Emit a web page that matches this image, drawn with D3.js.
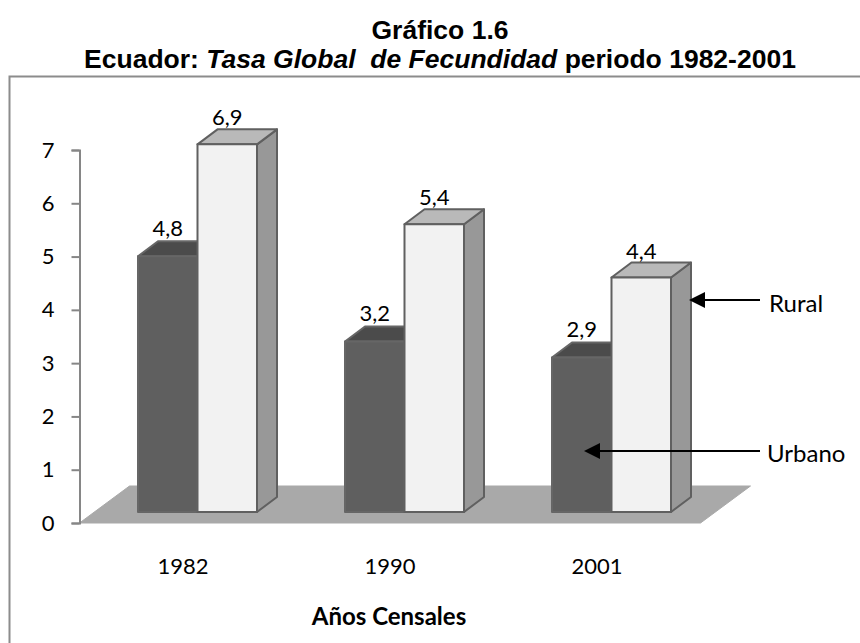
<!DOCTYPE html>
<html><head><meta charset="utf-8">
<script src="https://cdn.jsdelivr.net/npm/d3@7"></script>
<style>html,body{margin:0;padding:0;background:#fff}svg{display:block}</style>
</head><body><svg id="c" width="860" height="643"></svg>
<script>
const categories = ["1982","1990","2001"];
const urbano = [4.8,3.2,2.9];
const rural = [6.9,5.4,4.4];
const urbanoLabels = ["4,8","3,2","2,9"];
const ruralLabels = ["6,9","5,4","4,4"];
const yTicks = [0,1,2,3,4,5,6,7];

const svg = d3.select("#c");
const sans = "Lato, 'Open Sans', sans-serif";
const axisColor = "#868686";

svg.append("rect").attr("x",9.5).attr("y",76.5).attr("width",870).attr("height",590)
  .attr("fill","#fff").attr("stroke","#8c8c8c").attr("stroke-width",2);

const t = svg.append("g").attr("font-family","'Liberation Sans', Arial, sans-serif").attr("font-weight","bold")
  .attr("font-size",26.5).attr("fill","#000").attr("text-anchor","middle");
t.append("text").attr("x",440).attr("y",38.5).text("Gráfico 1.6");
const t2 = t.append("text").attr("x",440).attr("y",68).attr("xml:space","preserve").style("white-space","pre");
t2.append("tspan").text("Ecuador: ");
t2.append("tspan").attr("font-style","italic").text("Tasa Global  de Fecundidad");
t2.append("tspan").text(" periodo 1982-2001");

const x = d3.scaleBand().domain(categories).range([79.5,700.5]);
const y = d3.scaleLinear().domain([0,7]).range([523,150]);

const depthX = 20, depthY = -15, lift = 11, barW = 59.5;
const floorPts = [[x.range()[0],y(0)],[x.range()[0]+50,y(0)-37],[x.range()[1]+50,y(0)-37],[x.range()[1],y(0)]];
svg.append("polygon").attr("points",floorPts.join(" ")).attr("fill","#a9a9a9").attr("stroke","#a9a9a9");

const yAxis = svg.append("g").attr("transform","translate(79.5,0)")
  .call(d3.axisLeft(y).tickValues(yTicks).tickSize(8).tickPadding(17).tickFormat(d3.format("d")));
yAxis.selectAll("path,line").attr("stroke",axisColor).attr("stroke-width",2);
yAxis.selectAll("text").attr("font-family",sans).attr("font-size",22).attr("fill","#000");

const bx = (c,i) => x(c) + x.bandwidth()/2 - 45 + i*barW;
function box(sel, c, v, i, front, top, side, stroke){
  const l = bx(c,i), r = l+barW, ty = y(v)-lift, by = y(0)-lift;
  const g = sel.append("g").attr("stroke-linejoin","round");
  g.append("polygon").attr("points",[[r,ty],[r+depthX,ty+depthY],[r+depthX,by+depthY],[r,by]].join(" "))
    .attr("fill",side).attr("stroke",stroke).attr("stroke-width",2);
  g.append("polygon").attr("points",[[l,ty],[l+depthX,ty+depthY],[r+depthX,ty+depthY],[r,ty]].join(" "))
    .attr("fill",top).attr("stroke",stroke).attr("stroke-width",2);
  g.append("rect").attr("x",l).attr("y",ty).attr("width",barW).attr("height",by-ty)
    .attr("fill",front).attr("stroke",stroke).attr("stroke-width",2);
  return {cx:(l+r)/2, ty};
}
const bars = svg.append("g");
const labels = [];
categories.forEach((c,k)=>{
  const a = box(bars,c,urbano[k],0,"#5f5f5f","#4b4b4b","#4b4b4b","#666666");
  labels.push([a.cx,a.ty-20,urbanoLabels[k]]);
  const b = box(bars,c,rural[k],1,"#f2f2f2","#b9b9b9","#989898","#606060");
  labels.push([b.cx,b.ty-19,ruralLabels[k]]);
});
svg.append("g").selectAll("text").data(labels).join("text")
  .attr("x",d=>d[0]).attr("y",d=>d[1]).attr("text-anchor","middle")
  .attr("font-family",sans).attr("font-size",22).attr("fill","#000").text(d=>d[2]);

svg.append("g").selectAll("text").data(categories).join("text")
  .attr("x",d=>x(d)+x.bandwidth()/2).attr("y",574).attr("text-anchor","middle")
  .attr("font-family",sans).attr("font-size",22).attr("fill","#000").text(d=>d);

svg.append("text").attr("x",389).attr("y",625).attr("text-anchor","middle")
  .attr("font-family",sans).attr("font-size",24).attr("font-weight","bold").attr("fill","#000").text("Años Censales");

const annotations = [["Rural",769,312,689,760,300],["Urbano",767,462,584,760,451]];
const ann = svg.append("g");
annotations.forEach(([name,tx,ty,tip,tail,ay])=>{
  ann.append("line").attr("x1",tail).attr("x2",tip+10).attr("y1",ay).attr("y2",ay).attr("stroke","#000").attr("stroke-width",2);
  ann.append("polygon").attr("points",[[tip,ay],[tip+16,ay-8],[tip+16,ay+8]].join(" ")).attr("fill","#000");
  ann.append("text").attr("x",tx).attr("y",ty).attr("font-family",sans).attr("font-size",24).attr("fill","#000").text(name);
});
</script></body></html>
